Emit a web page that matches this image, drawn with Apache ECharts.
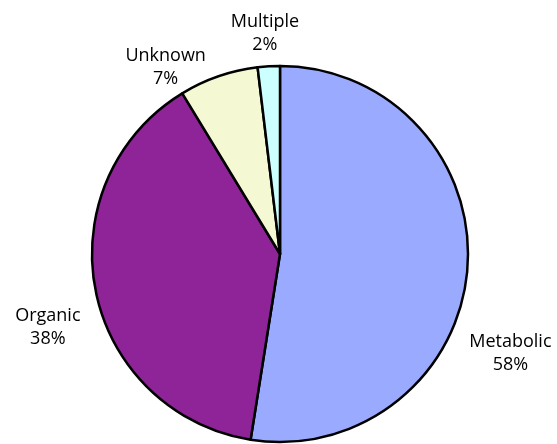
<!DOCTYPE html>
<html>
<head>
<meta charset="utf-8">
<script src="https://cdn.jsdelivr.net/npm/echarts@6/dist/echarts.min.js"></script>
<style>html,body{margin:0;padding:0;background:#fff;}#c{width:557px;height:444px;}</style>
</head>
<body>
<div id="c"></div>
<script>
const categories = ['Metabolic', 'Organic', 'Unknown', 'Multiple'];
const values = [52.5, 38.8, 6.8, 1.9];
const percentLabels = ['58%', '38%', '7%', '2%'];

const colors = ['#9aabff', '#8e2497', '#f5f9d3', '#ccffff'];
const labelShift = [[23, 83], [-28, 34], [-43, 5], [2, -18]];

const chart = echarts.init(document.getElementById('c'), null, {renderer: 'canvas'});
chart.setOption({
  animation: false,
  backgroundColor: '#ffffff',
  series: [{
    type: 'pie',
    center: [280, 254],
    radius: 188,
    startAngle: 90,
    clockwise: true,
    avoidLabelOverlap: false,
    data: categories.map((c, i) => ({name: c, value: values[i], itemStyle: {color: colors[i]}})),
    itemStyle: {borderColor: '#000', borderWidth: 2.5},
    emphasis: {disabled: true},
    label: {
      show: true,
      position: 'outside',
      formatter: (p) => p.name + '\n' + percentLabels[p.dataIndex],
      fontFamily: 'Open Sans',
      fontSize: 18,
      lineHeight: 23,
      color: '#000',
      overflow: 'none',
      distanceToLabelLine: 5
    },
    labelLine: {show: false, length: 15, length2: 0},
    labelLayout: (p) => ({
      dx: labelShift[p.dataIndex][0],
      dy: labelShift[p.dataIndex][1],
      align: 'center',
      verticalAlign: 'middle'
    })
  }]
});
</script>
</body>
</html>
